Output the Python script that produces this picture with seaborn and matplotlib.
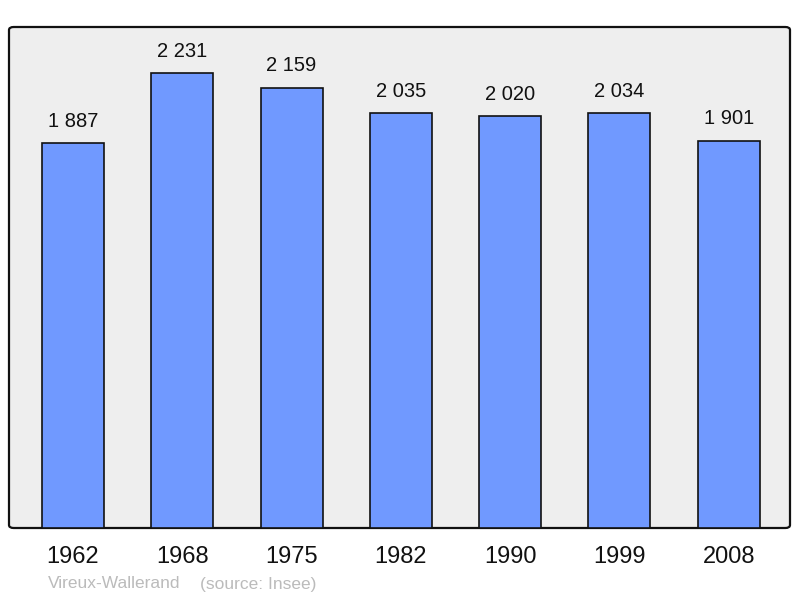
import matplotlib
matplotlib.use("Agg")
import matplotlib.pyplot as plt
import seaborn as sns
import pandas as pd
from matplotlib.patches import FancyBboxPatch

years = ["1962", "1968", "1975", "1982", "1990", "1999", "2008"]
population = [1887, 2231, 2159, 2035, 2020, 2034, 1901]
labels = ["1 887", "2 231", "2 159", "2 035", "2 020", "2 034", "1 901"]

sns.set_style("white")
plt.rcParams['font.family'] = ['Liberation Sans', 'DejaVu Sans']

df = pd.DataFrame({"year": years, "pop": population})

fig = plt.figure(figsize=(8, 5.98), dpi=100)
ax = fig.add_axes([9 / 800, 70 / 598, 781 / 800, 501 / 598])
ax.set_facecolor("none")

# rounded grey frame
frame = FancyBboxPatch((0, 0), 1, 1, boxstyle="round,pad=0,rounding_size=0.006",
                       transform=ax.transAxes, facecolor="#eeeeee",
                       edgecolor="#111111", linewidth=1.6, zorder=0, clip_on=False)
ax.add_patch(frame)

sns.barplot(data=df, x="year", y="pop", color="#7099ff", saturation=1,
            width=0.567, edgecolor="#111111", linewidth=1.2, ax=ax, zorder=2)

for i, (v, lab) in enumerate(zip(population, labels)):
    ax.annotate(lab, (i, v), xytext=(0, 9), textcoords="offset points",
                ha="center", va="bottom", fontsize=14.5, color="#111111")

ax.set_xlim(-0.585, 6.56)
ax.set_ylim(0, 2458)
ax.set_yticks([])
ax.set_xlabel("")
ax.set_ylabel("")
for s in ax.spines.values():
    s.set_visible(False)
ax.tick_params(axis="x", length=0, pad=13, labelsize=17, labelcolor="#111111")

fig.text(48 / 800, 1 - 584 / 598, "Vireux-Wallerand", fontsize=12.5,
         color="#bbbbbb", va="center", ha="left")
fig.text(200 / 800, 1 - 584 / 598, "(source: Insee)", fontsize=12.5,
         color="#bbbbbb", va="center", ha="left")

fig.savefig("out.png", dpi=100)
